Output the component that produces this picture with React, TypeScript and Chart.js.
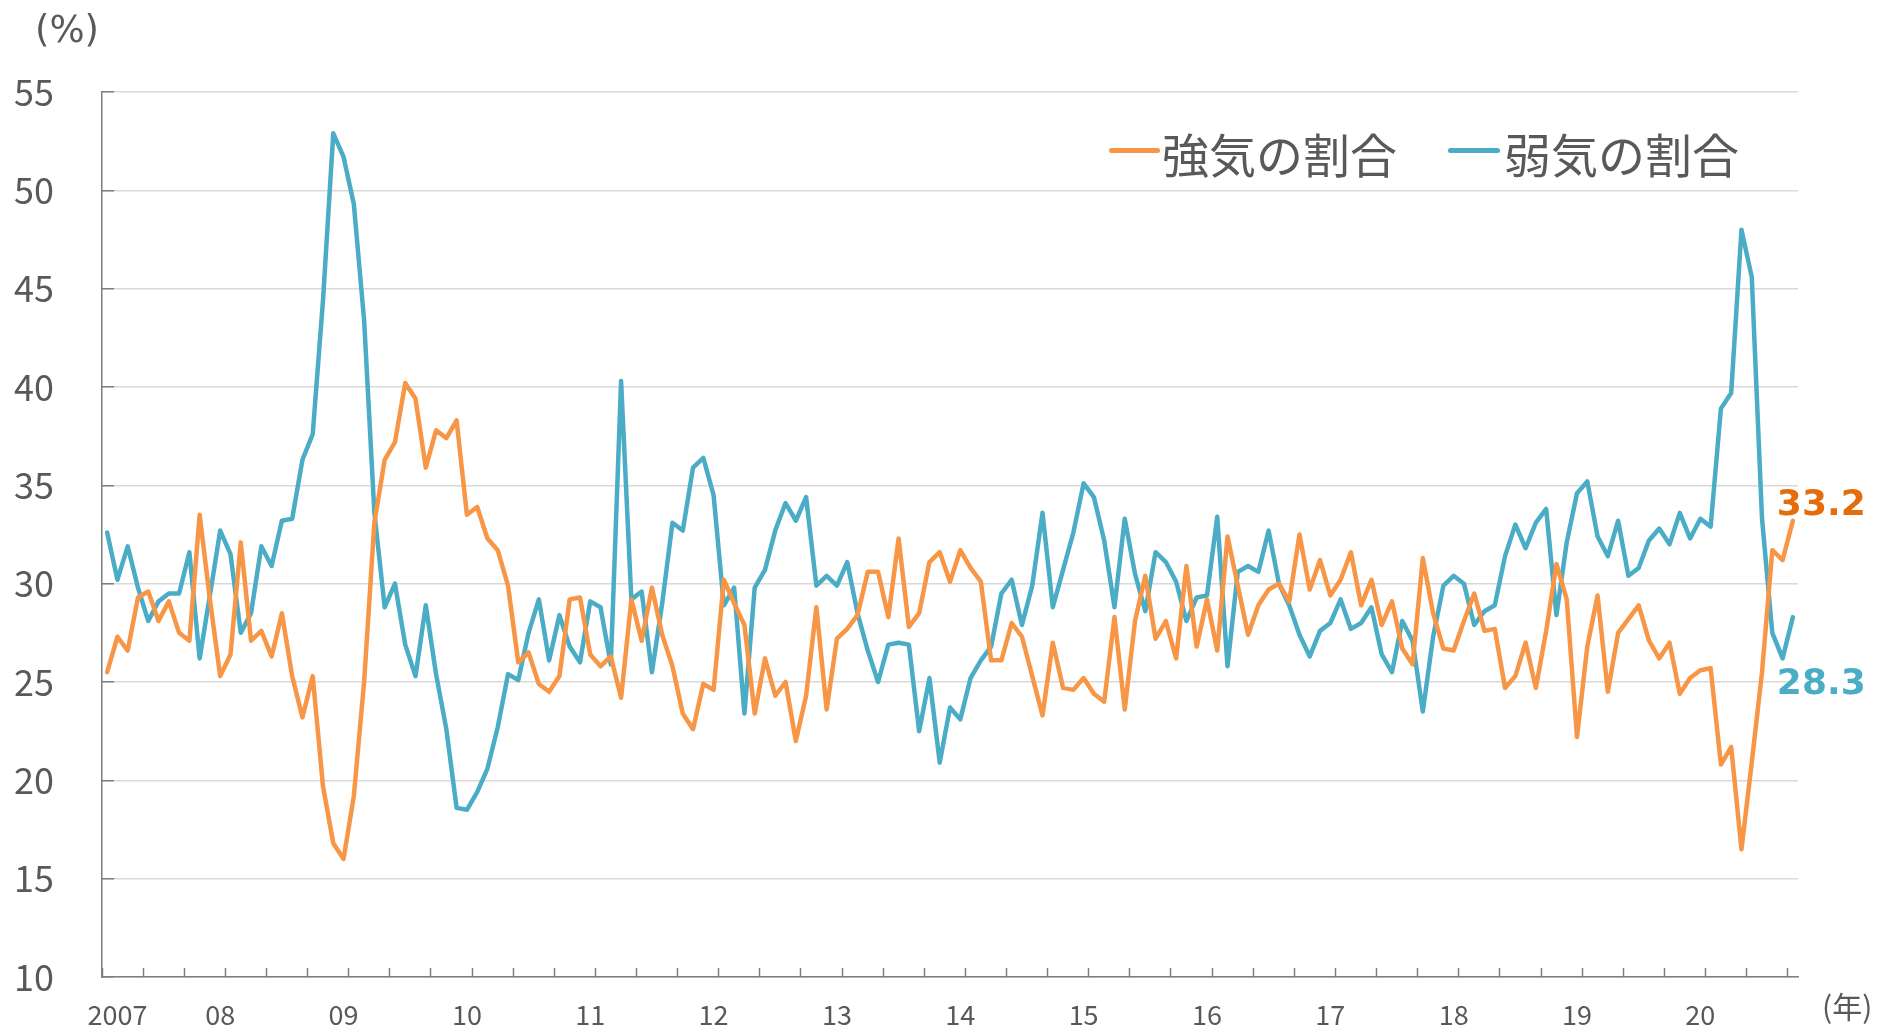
import React, { useEffect, useRef } from 'react';
import { Chart, registerables } from 'chart.js';

Chart.register(...registerables);

// 強気の割合 (bullish share, %) – monthly
const bullish: number[] = [
  25.5, 27.3, 26.6, 29.3, 29.6, 28.1, 29.1, 27.5, 27.1, 33.5,
  29.2, 25.3, 26.4, 32.1, 27.1, 27.6, 26.3, 28.5, 25.3, 23.2,
  25.3, 19.7, 16.8, 16.0, 19.2, 25.0, 33.1, 36.3, 37.2, 40.2,
  39.4, 35.9, 37.8, 37.4, 38.3, 33.5, 33.9, 32.3, 31.7, 29.9,
  26.0, 26.5, 24.9, 24.5, 25.3, 29.2, 29.3, 26.4, 25.8, 26.3,
  24.2, 29.2, 27.1, 29.8, 27.4, 25.8, 23.4, 22.6, 24.9, 24.6,
  30.2, 29.0, 27.9, 23.4, 26.2, 24.3, 25.0, 22.0, 24.3, 28.8,
  23.6, 27.2, 27.7, 28.4, 30.6, 30.6, 28.3, 32.3, 27.8, 28.5,
  31.1, 31.6, 30.1, 31.7, 30.8, 30.1, 26.1, 26.1, 28.0, 27.3,
  25.3, 23.3, 27.0, 24.7, 24.6, 25.2, 24.4, 24.0, 28.3, 23.6,
  28.1, 30.4, 27.2, 28.1, 26.2, 30.9, 26.8, 29.2, 26.6, 32.4,
  29.9, 27.4, 28.9, 29.7, 30.0, 29.1, 32.5, 29.7, 31.2, 29.4,
  30.2, 31.6, 28.9, 30.2, 27.9, 29.1, 26.7, 25.9, 31.3, 28.5,
  26.7, 26.6, 28.1, 29.5, 27.6, 27.7, 24.7, 25.3, 27.0, 24.7,
  27.6, 31.0, 29.2, 22.2, 26.8, 29.4, 24.5, 27.5, 28.2, 28.9,
  27.1, 26.2, 27.0, 24.4, 25.2, 25.6, 25.7, 20.8, 21.7, 16.5,
  20.9, 25.5, 31.7, 31.2, 33.2,
];

// 弱気の割合 (bearish share, %) – monthly
const bearish: number[] = [
  32.6, 30.2, 31.9, 29.8, 28.1, 29.1, 29.5, 29.5, 31.6, 26.2,
  29.4, 32.7, 31.5, 27.5, 28.5, 31.9, 30.9, 33.2, 33.3, 36.3,
  37.6, 44.4, 52.9, 51.7, 49.3, 43.4, 33.6, 28.8, 30.0, 26.9,
  25.3, 28.9, 25.4, 22.6, 18.6, 18.5, 19.4, 20.6, 22.7, 25.4,
  25.1, 27.5, 29.2, 26.1, 28.4, 26.8, 26.0, 29.1, 28.8, 25.9,
  40.3, 29.2, 29.6, 25.5, 29.0, 33.1, 32.7, 35.9, 36.4, 34.5,
  28.9, 29.8, 23.4, 29.8, 30.7, 32.7, 34.1, 33.2, 34.4, 29.9,
  30.4, 29.9, 31.1, 28.5, 26.6, 25.0, 26.9, 27.0, 26.9, 22.5,
  25.2, 20.9, 23.7, 23.1, 25.2, 26.1, 26.8, 29.5, 30.2, 27.9,
  29.9, 33.6, 28.8, 30.7, 32.6, 35.1, 34.4, 32.2, 28.8, 33.3,
  30.5, 28.6, 31.6, 31.1, 30.1, 28.1, 29.3, 29.4, 33.4, 25.8,
  30.6, 30.9, 30.6, 32.7, 30.0, 28.9, 27.4, 26.3, 27.6, 28.0,
  29.2, 27.7, 28.0, 28.8, 26.4, 25.5, 28.1, 27.1, 23.5, 27.3,
  29.9, 30.4, 30.0, 27.9, 28.6, 28.9, 31.4, 33.0, 31.8, 33.1,
  33.8, 28.4, 32.1, 34.6, 35.2, 32.4, 31.4, 33.2, 30.4, 30.8,
  32.2, 32.8, 32.0, 33.6, 32.3, 33.3, 32.9, 38.9, 39.7, 48.0,
  45.6, 33.3, 27.5, 26.2, 28.3,
];

// Monthly categories, starting February 2007
const FIRST_YEAR = 2007;
const FIRST_MONTH = 2;
const categories: string[] = bullish.map((_, i) => {
  const t = FIRST_YEAR * 12 + (FIRST_MONTH - 1) + i;
  return `${Math.floor(t / 12)}/${(t % 12) + 1}`;
});

const yearTickLabels: string[] = ['2007', '08', '09', '10', '11', '12', '13', '14', '15', '16', '17', '18', '19', '20'];
const seriesNames: string[] = ['強気の割合', '弱気の割合'];
const seriesColors: string[] = ['#F79646', '#4BACC6'];
const endLabelColors: string[] = ['#E46C0A', '#4BACC6'];

const TEXT = '#595959';
const AXIS = '#7f7f7f';
const GRID = '#d9d9d9';
const JP = "'Noto Sans CJK JP', 'Noto Sans', sans-serif";

export default function App() {
  const ref = useRef<HTMLCanvasElement | null>(null);

  useEffect(() => {
    if (!ref.current) return;
    const endLabels = {
      id: 'endLabels',
      afterDatasetsDraw(chart: any) {
        const ctx = chart.ctx;
        ctx.save();
        ctx.font = "bold 36px 'DejaVu Sans', sans-serif";
        ctx.textAlign = 'left';
        ctx.textBaseline = 'middle';
        const offsets = [-15, 68];
        chart.data.datasets.forEach((ds: any, di: number) => {
          const meta = chart.getDatasetMeta(di);
          const last = meta.data[meta.data.length - 1];
          const v = ds.data[ds.data.length - 1];
          ctx.fillStyle = endLabelColors[di];
          ctx.fillText(v.toFixed(1), last.x - 16, last.y + offsets[di]);
        });
        ctx.restore();
      },
    };

    const chart = new Chart(ref.current, {
      type: 'line',
      data: {
        labels: categories,
        datasets: [
          {
            label: seriesNames[0],
            data: bullish,
            borderColor: seriesColors[0],
            backgroundColor: seriesColors[0],
            borderWidth: 4.5,
            pointRadius: 0,
            tension: 0,
            borderJoinStyle: 'round',
            borderCapStyle: 'round',
          },
          {
            label: seriesNames[1],
            data: bearish,
            borderColor: seriesColors[1],
            backgroundColor: seriesColors[1],
            borderWidth: 4.5,
            pointRadius: 0,
            tension: 0,
            borderJoinStyle: 'round',
            borderCapStyle: 'round',
          },
        ],
      },
      options: {
        responsive: false,
        animation: false,
        devicePixelRatio: 1,
        layout: { padding: { top: 92, right: 79, bottom: 0, left: 0 } },
        plugins: {
          legend: { display: false },
          tooltip: { enabled: false },
        },
        scales: {
          x: {
            type: 'category',
            offset: true,
            afterFit: (s: any) => { s.height = 52; },
            border: { display: true, color: AXIS, width: 1.5 },
            grid: {
              display: true,
              offset: true,
              drawOnChartArea: false,
              drawTicks: true,
              tickLength: -9,
              tickWidth: 1.5,
              tickColor: (c: any) => (typeof c.index === 'number' && c.index % 4 === 0 ? AXIS : 'rgba(0,0,0,0)'),
            },
            ticks: {
              autoSkip: false,
              maxRotation: 0,
              minRotation: 0,
              padding: 31,
              color: TEXT,
              font: { family: JP, size: 27 },
              callback: (_v: any, i: number) => {
                if (i === 1) return yearTickLabels[0];
                const [y, m] = categories[i].split('/').map(Number);
                if (m === 1) return yearTickLabels[y - FIRST_YEAR];
                return '';
              },
            },
          },
          y: {
            min: 10,
            max: 55,
            afterFit: (s: any) => { s.width = 102; s.paddingTop = 20; s.paddingBottom = 20; },
            border: { display: true, color: AXIS, width: 1.5 },
            grid: {
              color: GRID,
              lineWidth: 1.5,
              drawTicks: true,
              tickLength: -12,
              tickColor: AXIS,
              tickWidth: 1.5,
            },
            ticks: {
              stepSize: 5,
              padding: 60,
              color: TEXT,
              font: { family: JP, size: 36 },
            },
          },
        },
      },
      plugins: [endLabels],
    } as any);

    return () => chart.destroy();
  }, []);

  const lineStyle = (left: number, width: number, color: string): React.CSSProperties => ({
    position: 'absolute', left, top: 147.5, width, height: 5, borderRadius: 2.5, background: color,
  });
  const legendText = (left: number): React.CSSProperties => ({
    position: 'absolute', left, top: 129, fontSize: 47, lineHeight: '47px', color: TEXT,
    fontFamily: JP, whiteSpace: 'nowrap',
  });

  return (
    <div style={{ position: 'fixed', left: 0, top: 0, width: 1877, height: 1029, background: '#fff', overflow: 'hidden' }}>
      <canvas ref={ref} width={1877} height={1029} style={{ position: 'absolute', left: 0, top: 0 }} />
      <div style={{ position: 'absolute', left: 35, top: 11, fontSize: 37, lineHeight: '37px', color: TEXT, fontFamily: "'DejaVu Sans', sans-serif" }}>(%)</div>
      <div style={{ position: 'absolute', left: 1822, top: 990, fontSize: 30, lineHeight: '30px', color: TEXT, fontFamily: JP, whiteSpace: 'nowrap' }}>(年)</div>
      <div style={lineStyle(1109, 51, seriesColors[0])} />
      <div style={legendText(1162)}>{seriesNames[0]}</div>
      <div style={lineStyle(1448, 52, seriesColors[1])} />
      <div style={legendText(1504)}>{seriesNames[1]}</div>
    </div>
  );
}
